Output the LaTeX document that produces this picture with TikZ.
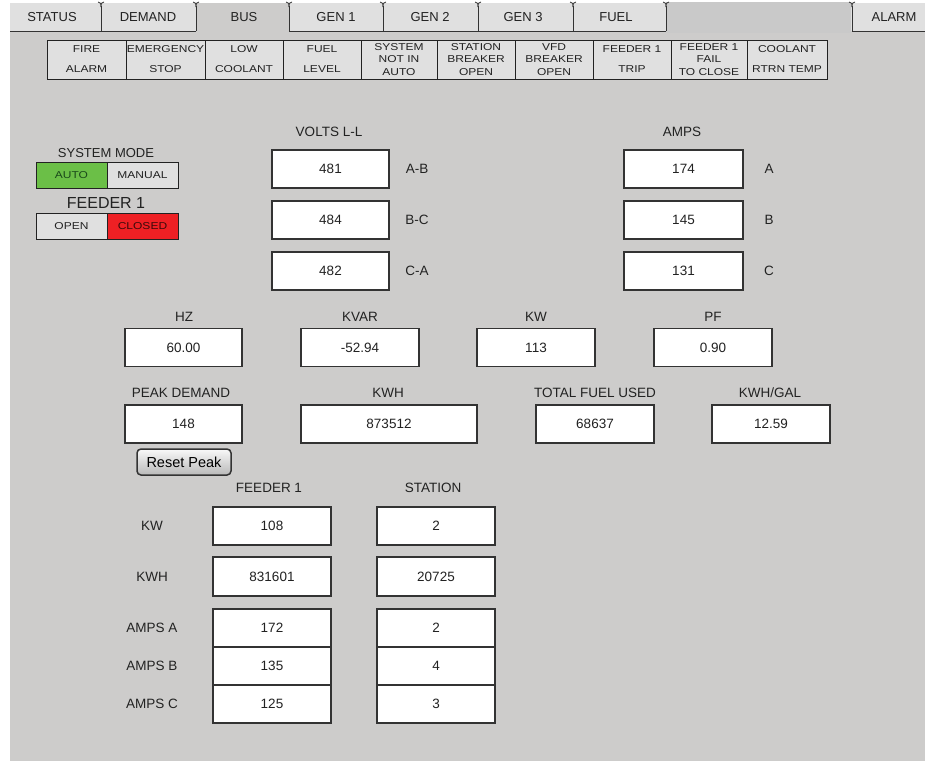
\documentclass[tikz,border=0pt]{standalone}
\usepackage{fontspec}
\setmainfont{Liberation Sans}
\newfontfamily\widefont[FakeStretch=1.2]{Liberation Sans}
\definecolor{panel}{HTML}{CDCCCB}
\definecolor{tabbg}{HTML}{E0E0E0}
\definecolor{blank}{HTML}{C9C9C9}
\definecolor{ink}{HTML}{222222}
\definecolor{edge}{HTML}{333333}
\definecolor{autogreen}{HTML}{6BBF47}
\definecolor{autotext}{HTML}{1B4A1B}
\definecolor{closedred}{HTML}{EE2024}
\definecolor{closedtext}{HTML}{3A0A0A}
\definecolor{cellbg}{HTML}{E0E0E0}
\tikzset{
  valbox/.style={draw=edge, fill=white, line width=1.3pt, minimum width=117pt, minimum height=38pt, inner sep=0pt, font=\fontsize{13.5}{16}\selectfont, text=ink},
  lbl/.style={inner sep=0pt, font=\fontsize{13.5}{16}\selectfont, text=ink},
  tablbl/.style={inner sep=0pt, font=\fontsize{13}{16}\selectfont, text=ink},
  alarmcell/.style={draw=ink, fill=cellbg, line width=1pt, inner sep=0pt, minimum height=39pt, align=center, text=ink},
  twoline/.style={font=\widefont\fontsize{10}{20}\selectfont},
  threeline/.style={font=\widefont\fontsize{10}{12.5}\selectfont},
  modebox/.style={draw=ink, line width=1pt, minimum width=71pt, minimum height=26pt, inner sep=0pt, font=\widefont\fontsize{10}{12}\selectfont},
  tabline/.style={draw=edge, line width=1pt},
  resetbtn/.style={draw=edge, line width=1.5pt, rounded corners=4pt, top color=white!95!gray, bottom color=gray!55, minimum width=94pt, minimum height=26pt, inner sep=0pt, font=\fontsize{14.5}{16}\selectfont, text=black},
}
\begin{document}
\begin{tikzpicture}[x=1pt,y=-1pt]
\useasboundingbox (0,0) rectangle (925,761);
\fill[white] (0,0) rectangle (925,761);
% tab strip and panel
\fill[tabbg] (10,3) rectangle (925,31);
\fill[panel] (10,31) rectangle (925,761);
\fill[panel] (196,3) rectangle (289,31);
\fill[blank] (666,2) rectangle (851,33);
\draw[tabline] (10,31) -- (196,31);
\draw[tabline] (289,31) -- (666,31);
\draw[tabline] (852,31) -- (925,31);
\foreach \x in {101,196,289,383,478,573,666,852}{
  \draw[tabline] (\x,31) -- (\x,6);
  \draw[edge, line width=0.8pt] (\x-3,2) .. controls (\x,3) .. (\x,7);
  \draw[edge, line width=0.8pt] (\x+3,2) .. controls (\x,3) .. (\x,7);
}
\node[tablbl] (tStatus) at (52,17) {STATUS};
\node[tablbl] (tDemand) at (148,17) {DEMAND};
\node[tablbl] (tBus) at (244,17) {BUS};
\node[tablbl] (tGen1) at (336,17) {GEN 1};
\node[tablbl] (tGen2) at (430,17) {GEN 2};
\node[tablbl] (tGen3) at (523,17) {GEN 3};
\node[tablbl] (tFuel) at (616,17) {FUEL};
\node[tablbl] (tAlarm) at (894,17) {ALARM};
% alarm row
\node[alarmcell, twoline, minimum width=79pt] (a1) at (86.5,59.5) {FIRE\\ALARM};
\node[alarmcell, twoline, minimum width=79pt] (a2) at (165.5,59.5) {EMERGENCY\\STOP};
\node[alarmcell, twoline, minimum width=78pt] (a3) at (244,59.5) {LOW\\COOLANT};
\node[alarmcell, twoline, minimum width=78pt] (a4) at (322,59.5) {FUEL\\LEVEL};
\node[alarmcell, threeline, minimum width=76pt] (a5) at (399,59.5) {SYSTEM\\NOT IN\\AUTO};
\node[alarmcell, threeline, minimum width=78pt] (a6) at (476,59.5) {STATION\\BREAKER\\OPEN};
\node[alarmcell, threeline, minimum width=78pt] (a7) at (554,59.5) {VFD\\BREAKER\\OPEN};
\node[alarmcell, twoline, minimum width=78pt] (a8) at (632,59.5) {FEEDER 1\\TRIP};
\node[alarmcell, threeline, minimum width=76pt] (a9) at (709,59.5) {FEEDER 1\\FAIL\\TO CLOSE};
\node[alarmcell, twoline, minimum width=80pt] (a10) at (787,59.5) {COOLANT\\RTRN TEMP};
% system mode / feeder
\node[lbl, font=\fontsize{13}{16}\selectfont] (smLbl) at (106,153) {SYSTEM MODE};
\node[modebox, fill=autogreen, text=autotext] (auto) at (71.5,175) {AUTO};
\node[modebox, fill=cellbg, text=ink] (manual) at (142.5,175) {MANUAL};
\node[lbl, font=\fontsize{16}{18}\selectfont] (fdLbl) at (106,203) {FEEDER 1};
\node[modebox, fill=cellbg, text=ink] (open) at (71.5,226) {OPEN};
\node[modebox, fill=closedred, text=closedtext] (closed) at (142.5,226) {CLOSED};
% volts
\node[lbl] (voltsLbl) at (329,132) {VOLTS L-L};
\node[valbox] (vAB) at (330.5,169) {481};
\node[valbox] (vBC) at (330.5,220) {484};
\node[valbox] (vCA) at (330.5,271) {482};
\node[lbl] (lAB) at (417,169) {A-B};
\node[lbl] (lBC) at (417,220) {B-C};
\node[lbl] (lCA) at (417,271) {C-A};
% amps
\node[lbl] (ampsLbl) at (682,132) {AMPS};
\node[valbox, minimum width=119pt] (iA) at (683.5,169) {174};
\node[valbox, minimum width=119pt] (iB) at (683.5,220) {145};
\node[valbox, minimum width=119pt] (iC) at (683.5,271) {131};
\node[lbl] (lA) at (769,169) {A};
\node[lbl] (lB) at (769,220) {B};
\node[lbl] (lC) at (769,271) {C};
% hz row
\node[lbl] (hzLbl) at (184,317) {HZ};
\node[valbox] (hz) at (183.5,347.5) {60.00};
\node[lbl] (kvarLbl) at (360,317) {KVAR};
\node[valbox, minimum width=118pt] (kvar) at (360,347.5) {-52.94};
\node[lbl] (kwLbl) at (536,317) {KW};
\node[valbox, minimum width=118pt] (kw) at (536,347.5) {113};
\node[lbl] (pfLbl) at (713,317) {PF};
\node[valbox, minimum width=118pt] (pf) at (713,347.5) {0.90};
% second row
\node[lbl] (pdLbl) at (181,393) {PEAK DEMAND};
\node[valbox] (pd) at (183.5,424) {148};
\node[lbl] (kwhLbl) at (388,393) {KWH};
\node[valbox, minimum width=176pt] (kwh) at (389,424) {873512};
\node[lbl] (tfLbl) at (595,393) {TOTAL FUEL USED};
\node[valbox, minimum width=118pt] (tf) at (595,424) {68637};
\node[lbl] (kgLbl) at (770,393) {KWH/GAL};
\node[valbox, minimum width=118pt] (kg) at (771,424) {12.59};
\node[resetbtn] (reset) at (184,462) {Reset Peak};
% feeder / station
\node[lbl] (fLbl) at (269,488) {FEEDER 1};
\node[lbl] (sLbl) at (433,488) {STATION};
\node[lbl] (rKW) at (152,526) {KW};
\node[lbl] (rKWH) at (152,576.5) {KWH};
\node[lbl] (rA) at (152,628) {AMPS A};
\node[lbl] (rB) at (152,666) {AMPS B};
\node[lbl] (rC) at (152,704) {AMPS C};
\node[valbox, minimum width=118pt] (fKW) at (272,526) {108};
\node[valbox, minimum width=118pt] (sKW) at (436,526) {2};
\node[valbox, minimum width=118pt, minimum height=39pt] (fKWH) at (272,576.5) {831601};
\node[valbox, minimum width=118pt, minimum height=39pt] (sKWH) at (436,576.5) {20725};
\node[valbox, minimum width=118pt] (fA) at (272,628) {172};
\node[valbox, minimum width=118pt] (sA) at (436,628) {2};
\node[valbox, minimum width=118pt] (fB) at (272,666) {135};
\node[valbox, minimum width=118pt] (sB) at (436,666) {4};
\node[valbox, minimum width=118pt] (fC) at (272,704) {125};
\node[valbox, minimum width=118pt] (sC) at (436,704) {3};
\end{tikzpicture}
\end{document}
